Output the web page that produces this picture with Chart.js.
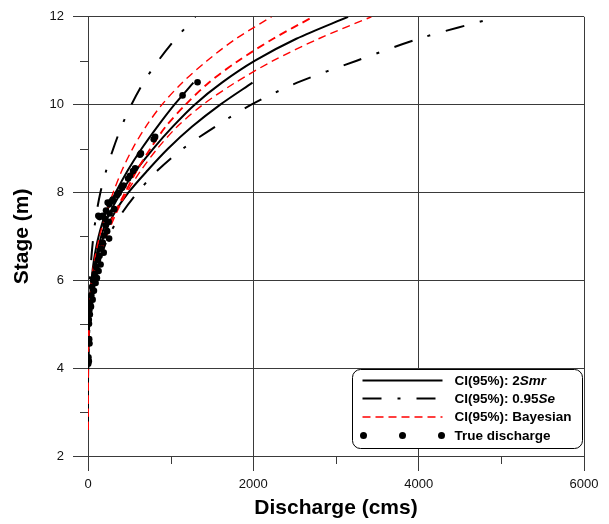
<!DOCTYPE html>
<html>
<head>
<meta charset="utf-8">
<script src="https://cdn.jsdelivr.net/npm/chart.js@4.4.1/dist/chart.umd.min.js"></script>
<style>
  html, body { margin: 0; padding: 0; background: #fff; }
  canvas { display: block; }
</style>
</head>
<body>
<canvas id="rating" width="609" height="524"></canvas>
<script>
// Stage levels (m) at which each rating curve is tabulated
const stageLevels = [2.6, 3.0, 3.5, 4.0, 4.5, 5.0, 5.5, 6.0, 6.5, 7.0, 7.5, 8.0, 8.5, 9.0, 9.5, 10.0, 10.5, 11.0, 11.5, 12.0];

// Discharge (cms) of each curve at the stage levels above (null = not drawn there)
const fittedCurve  = [0, 0, 0, 1, 4, 12, 28, 55, 95, 160, 255, 400, 580, 790, 1025, 1290, 1620, 2020, 2520, 3146];
const smrUpper     = [0, 0, 0, 0.5, 3, 9, 21, 42, 75, 128, 210, 335, 480, 650, 840, 1045, 1275, null, null, null];
const smrLower     = [0, 0, 0, 1.5, 5, 15, 33, 64, 112, 190, 310, 490, 720, 970, 1260, 1600, 1990, null, null, null];
const seUpper      = [null, null, null, 0, 1, 4, 10, 22, 40, 65, 100, 150, 220, 306, 405, 525, 670, 850, 1060, 1300];
const seLower      = [null, null, null, 2, 8, 20, 45, 85, 150, 250, 400, 600, 840, 1150, 1540, 1975, 2530, 3250, 4000, 4960];
const bayesUpper   = [0, 0, 0, 1, 3, 9, 20, 43, 82, 140, 215, 305, 410, 540, 700, 895, 1140, 1440, 1790, 2220];
const bayesMedian  = [0, 0, 0, 1, 4, 12, 30, 62, 120, 205, 315, 450, 590, 755, 940, 1180, 1460, 1820, 2240, 2723];
const bayesLower   = [0, 0, 0, 1, 5, 14, 34, 72, 135, 225, 335, 470, 640, 840, 1080, 1390, 1780, 2240, 2790, 3428];

// Measured (true) discharge and the stage at which it was gauged
const obsDischarge = [1325, 1144, 812, 795, 640, 628, 570, 545, 508, 485, 430, 412, 370, 352, 300, 285, 258, 238, 318, 218,
                      262, 178, 140, 125, 205, 250, 212, 232, 196, 255, 178, 160, 190, 140, 120, 152, 100, 128, 82, 108,
                      62, 92, 50, 72, 40, 56, 26, 36, 16, 22, 10, 12, 14, 8, 18, 5, 10, 3];
const obsStage     = [10.51, 10.21, 9.27, 9.21, 8.89, 8.86, 8.55, 8.49, 8.38, 8.32, 8.16, 8.11, 7.99, 7.94, 7.84, 7.80, 7.73, 7.77, 7.62, 7.59,
                      7.52, 7.47, 7.44, 7.47, 7.40, 7.33, 7.25, 7.12, 7.02, 6.95, 6.86, 6.72, 6.63, 6.56, 6.46, 6.36, 6.30, 6.21, 6.15, 6.05,
                      6.00, 5.94, 5.85, 5.76, 5.66, 5.56, 5.46, 5.40, 5.31, 5.22, 5.10, 5.01, 4.66, 4.60, 4.56, 4.25, 4.16, 4.10];

// Axis ticks
const xMajorTicks = [0, 2000, 4000, 6000];
const xMinorTicks = [1000, 3000, 5000];
const yMajorTicks = [2, 4, 6, 8, 10, 12];
const yMinorTicks = [3, 5, 7, 9, 11];

// Legend entries
const legendLabels = [
  ['CI(95%): 2', 'Smr'],
  ['CI(95%): 0.95', 'Se'],
  ['CI(95%): Bayesian', ''],
  ['True discharge', '']
];

const FONT = '"Liberation Sans", Arial, Helvetica, sans-serif';
const AXIS_COLOR = '#3a3a3a';
const DASH_DOT = [19, 16, 3, 16];
const RED_DASH = [8, 5];

function toPoints(qs) {
  const pts = [];
  qs.forEach((q, i) => { if (q !== null) pts.push({ x: q, y: stageLevels[i] }); });
  return pts;
}

function lineSet(qs, color, width, dash) {
  return {
    data: toPoints(qs),
    showLine: true,
    borderColor: color,
    borderWidth: width,
    borderDash: dash || [],
    borderCapStyle: 'butt',
    pointRadius: 0,
    tension: 0.3,
    fill: false
  };
}

// Minor tick marks on both axes
const minorTicks = {
  id: 'minorTicks',
  afterDraw(chart) {
    const { ctx, chartArea, scales } = chart;
    ctx.save();
    ctx.strokeStyle = AXIS_COLOR;
    ctx.lineWidth = 1;
    ctx.beginPath();
    xMinorTicks.forEach(v => {
      const px = Math.round(scales.x.getPixelForValue(v)) + 0.5;
      ctx.moveTo(px, chartArea.bottom);
      ctx.lineTo(px, chartArea.bottom + 8);
    });
    yMinorTicks.forEach(v => {
      const py = Math.round(scales.y.getPixelForValue(v)) + 0.5;
      ctx.moveTo(chartArea.left - 8, py);
      ctx.lineTo(chartArea.left, py);
    });
    ctx.stroke();
    ctx.restore();
  }
};

// Boxed key in the lower-right corner of the plot
const curveKey = {
  id: 'curveKey',
  afterDraw(chart) {
    const { ctx, chartArea } = chart;
    const w = 230, h = 79, r = 8;
    const x0 = Math.round(chartArea.right - 2 - w) + 0.5;
    const y0 = Math.round(chartArea.bottom - 8 - h) + 0.5;
    ctx.save();
    ctx.beginPath();
    ctx.moveTo(x0 + r, y0);
    ctx.lineTo(x0 + w - r, y0);
    ctx.arcTo(x0 + w, y0, x0 + w, y0 + r, r);
    ctx.lineTo(x0 + w, y0 + h - r);
    ctx.arcTo(x0 + w, y0 + h, x0 + w - r, y0 + h, r);
    ctx.lineTo(x0 + r, y0 + h);
    ctx.arcTo(x0, y0 + h, x0, y0 + h - r, r);
    ctx.lineTo(x0, y0 + r);
    ctx.arcTo(x0, y0, x0 + r, y0, r);
    ctx.closePath();
    ctx.fillStyle = '#fff';
    ctx.fill();
    ctx.strokeStyle = '#000';
    ctx.lineWidth = 1;
    ctx.stroke();

    const sx0 = x0 + 10, sx1 = x0 + 90, tx = x0 + 102;
    const rows = [11, 29, 47.5, 66];
    // samples
    const sample = (y, color, width, dash) => {
      ctx.beginPath();
      ctx.setLineDash(dash);
      ctx.lineCap = 'butt';
      ctx.strokeStyle = color;
      ctx.lineWidth = width;
      ctx.moveTo(sx0, y0 + y);
      ctx.lineTo(sx1, y0 + y);
      ctx.stroke();
    };
    sample(rows[0], '#000', 2, []);
    sample(rows[1], '#000', 2, DASH_DOT);
    sample(rows[2], '#ff0000', 1.4, RED_DASH);
    ctx.setLineDash([]);
    ctx.fillStyle = '#000';
    [sx0 + 1, (sx0 + sx1) / 2, sx1 - 1].forEach(cx => {
      ctx.beginPath();
      ctx.arc(cx, y0 + rows[3], 3.5, 0, Math.PI * 2);
      ctx.fill();
    });

    // labels
    ctx.textBaseline = 'middle';
    ctx.textAlign = 'left';
    legendLabels.forEach((parts, i) => {
      const y = y0 + rows[i] + 0.5;
      ctx.font = 'bold 13.5px ' + FONT;
      ctx.fillText(parts[0], tx, y);
      if (parts[1]) {
        const wPlain = ctx.measureText(parts[0]).width;
        ctx.font = 'italic bold 13.5px ' + FONT;
        ctx.fillText(parts[1], tx + wPlain, y);
      }
    });
    ctx.restore();
  }
};

const observations = {
  data: obsDischarge.map((q, i) => ({ x: q, y: obsStage[i] })),
  showLine: false,
  pointRadius: 3.3,
  pointBackgroundColor: '#000',
  pointBorderWidth: 0,
  pointBorderColor: '#000'
};

new Chart(document.getElementById('rating'), {
  type: 'scatter',
  data: {
    datasets: [
      observations,
      lineSet(bayesUpper, '#ff0000', 1.4, RED_DASH),
      lineSet(bayesMedian, '#ff0000', 1.9, RED_DASH),
      lineSet(bayesLower, '#ff0000', 1.4, RED_DASH),
      lineSet(smrUpper, '#000', 2, []),
      lineSet(fittedCurve, '#000', 2, []),
      lineSet(smrLower, '#000', 2, []),
      lineSet(seUpper, '#000', 2, DASH_DOT),
      lineSet(seLower, '#000', 2, DASH_DOT)
    ]
  },
  options: {
    responsive: false,
    animation: false,
    devicePixelRatio: 1,
    layout: { padding: { top: 12, right: 25, left: 0, bottom: 0 } },
    plugins: { legend: { display: false }, tooltip: { enabled: false } },
    scales: {
      x: {
        type: 'linear',
        min: 0, max: 6000,
        afterFit(s) { s.height = 68; },
        afterBuildTicks(s) { s.ticks = xMajorTicks.map(v => ({ value: v })); },
        ticks: {
          font: { family: FONT, size: 13 }, color: '#111', padding: 6,
          maxRotation: 0, autoSkip: false,
          callback: v => String(v)
        },
        grid: { color: AXIS_COLOR, lineWidth: 1, tickLength: 15, tickColor: AXIS_COLOR },
        border: { color: AXIS_COLOR, width: 1 },
        title: {
          display: true, text: 'Discharge (cms)', color: '#000',
          font: { family: FONT, size: 21, weight: 'bold' },
          padding: { top: 0, bottom: 3 }
        }
      },
      y: {
        type: 'linear',
        min: 2, max: 12,
        afterFit(s) { s.width = 88; },
        afterBuildTicks(s) { s.ticks = yMajorTicks.map(v => ({ value: v })); },
        ticks: {
          font: { family: FONT, size: 13 }, color: '#111', padding: 9,
          autoSkip: false,
          callback: v => String(v)
        },
        grid: { color: AXIS_COLOR, lineWidth: 1, tickLength: 15, tickColor: AXIS_COLOR },
        border: { color: AXIS_COLOR, width: 1 },
        title: {
          display: true, text: 'Stage (m)', color: '#000',
          font: { family: FONT, size: 21, weight: 'bold' },
          padding: { top: 10, bottom: 0 }
        }
      }
    }
  },
  plugins: [minorTicks, curveKey]
});
</script>
</body>
</html>
